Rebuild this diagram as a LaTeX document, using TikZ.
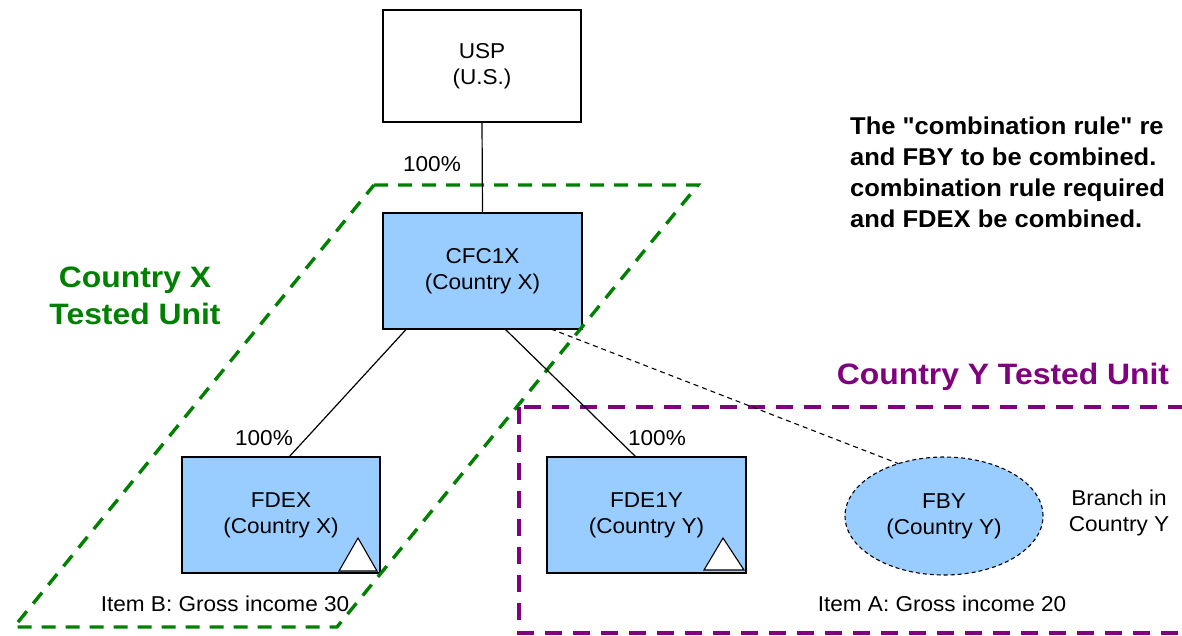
\documentclass[tikz,border=0pt]{standalone}
\usepackage{fontspec}
\setmainfont{Liberation Sans}[Ligatures=ResetAll]
\newfontfamily\regfont{Liberation Sans}[Ligatures=ResetAll, FakeStretch=1.05]
\newfontfamily\headfont{Liberation Sans}[Ligatures=ResetAll, FakeStretch=1.08]
\newfontfamily\notefont{Liberation Sans}[Ligatures=ResetAll, FakeStretch=1.05]
\usetikzlibrary{shapes.geometric,calc}
\definecolor{boxblue}{RGB}{153,204,255}
\definecolor{xgreen}{RGB}{0,128,0}
\definecolor{ypurple}{RGB}{128,0,128}
\tikzset{
  entity/.style={draw=black, line width=1.4pt, minimum width=199pt, minimum height=116pt, inner sep=0pt, outer sep=0pt, align=center, font=\regfont\fontsize{21.5}{26}\selectfont},
  cfcbox/.style={entity, fill=boxblue},
  branchell/.style={ellipse, draw=black, line width=1.1pt, dash pattern=on 4pt off 3pt, fill=boxblue, minimum width=198pt, minimum height=118pt, inner sep=0pt, outer sep=0pt, align=center, font=\regfont\fontsize{21.5}{26}\selectfont},
  plain/.style={inner sep=0pt, align=center, font=\regfont\fontsize{21.5}{26}\selectfont},
  link/.style={draw=black, line width=1.2pt},
  dlink/.style={draw=black, line width=1.1pt, dash pattern=on 5pt off 4pt},
  greenunit/.style={draw=xgreen, line width=3.4pt, dash pattern=on 14pt off 10pt},
  purpleunit/.style={draw=ypurple, line width=3.6pt, dash pattern=on 17pt off 11pt},
  tri/.style={draw=black, line width=1.1pt, fill=white},
  heading/.style={inner sep=0pt, align=center, font=\headfont\fontsize{29.5}{37}\selectfont\bfseries},
  note/.style={inner sep=0pt, align=left, anchor=north west, font=\notefont\fontsize{24.3}{31}\selectfont\bfseries}
}
\begin{document}
\begin{tikzpicture}[x=1pt, y=-1pt]
\clip (0,0) rectangle (1182,635);
\fill[white] (0,0) rectangle (1182,635);

% entities
\node[entity, fill=white, minimum width=198pt, minimum height=112pt] (usp) at (482,66) {USP\\(U.S.)};
\node[cfcbox] (cfc) at (482.5,271) {CFC1X\\(Country X)};
\node[cfcbox, minimum width=198pt] (fdex) at (281,515) {FDEX\\(Country X)};
\node[cfcbox] (fde) at (646.5,515) {FDE1Y\\(Country Y)};
\node[branchell] (fby) at (944,516) {FBY\\(Country Y)};

% triangles
\draw[tri] ($(fdex.south east)+(-22,-35)$) -- ($(fdex.south east)+(-41,-2)$) -- ($(fdex.south east)+(-3,-2)$) -- cycle;
\draw[tri] ($(fde.south east)+(-23,-35)$) -- ($(fde.south east)+(-42,-3)$) -- ($(fde.south east)+(-2,-3)$) -- cycle;

% tested units
\draw[greenunit] (374,185) -- (698,185) -- (337,627) -- (14,627) -- cycle;
\draw[purpleunit] (519,407) rectangle (1200,633);

% connectors
\draw[link] (usp.south) -- (cfc.north);
\draw[link] ([xshift=23.5pt]cfc.south west) -- ([xshift=8pt]fdex.north);
\draw[link] ([xshift=22.5pt]cfc.south) -- ([xshift=-10.5pt]fde.north);
\draw[dlink] ([xshift=68.5pt]cfc.south) -- (fby.131);

% labels
\node[plain, anchor=base] (p1) at (432,171) {100\%};
\node[plain, anchor=base] (p2) at (264,445) {100\%};
\node[plain, anchor=base] (p3) at (657,445) {100\%};
\node[plain, anchor=base] (itemb) at (225,611) {Item B: Gross income 30};
\node[plain, anchor=base] (itema) at (942,611) {Item A: Gross income 20};
\node[plain] (branch) at (1119,512.5) {Branch in\\Country Y};

\node[heading, text=xgreen] (xunit) at (135,296) {Country X\\Tested Unit};
\node[heading, text=ypurple, anchor=base] (yunit) at (1003,384) {Country Y Tested Unit};

\node[note] (rule) at (850,117) {The "combination rule" re\\and FBY to be combined.\\combination rule required\\and FDEX be combined.};
\end{tikzpicture}
\end{document}
